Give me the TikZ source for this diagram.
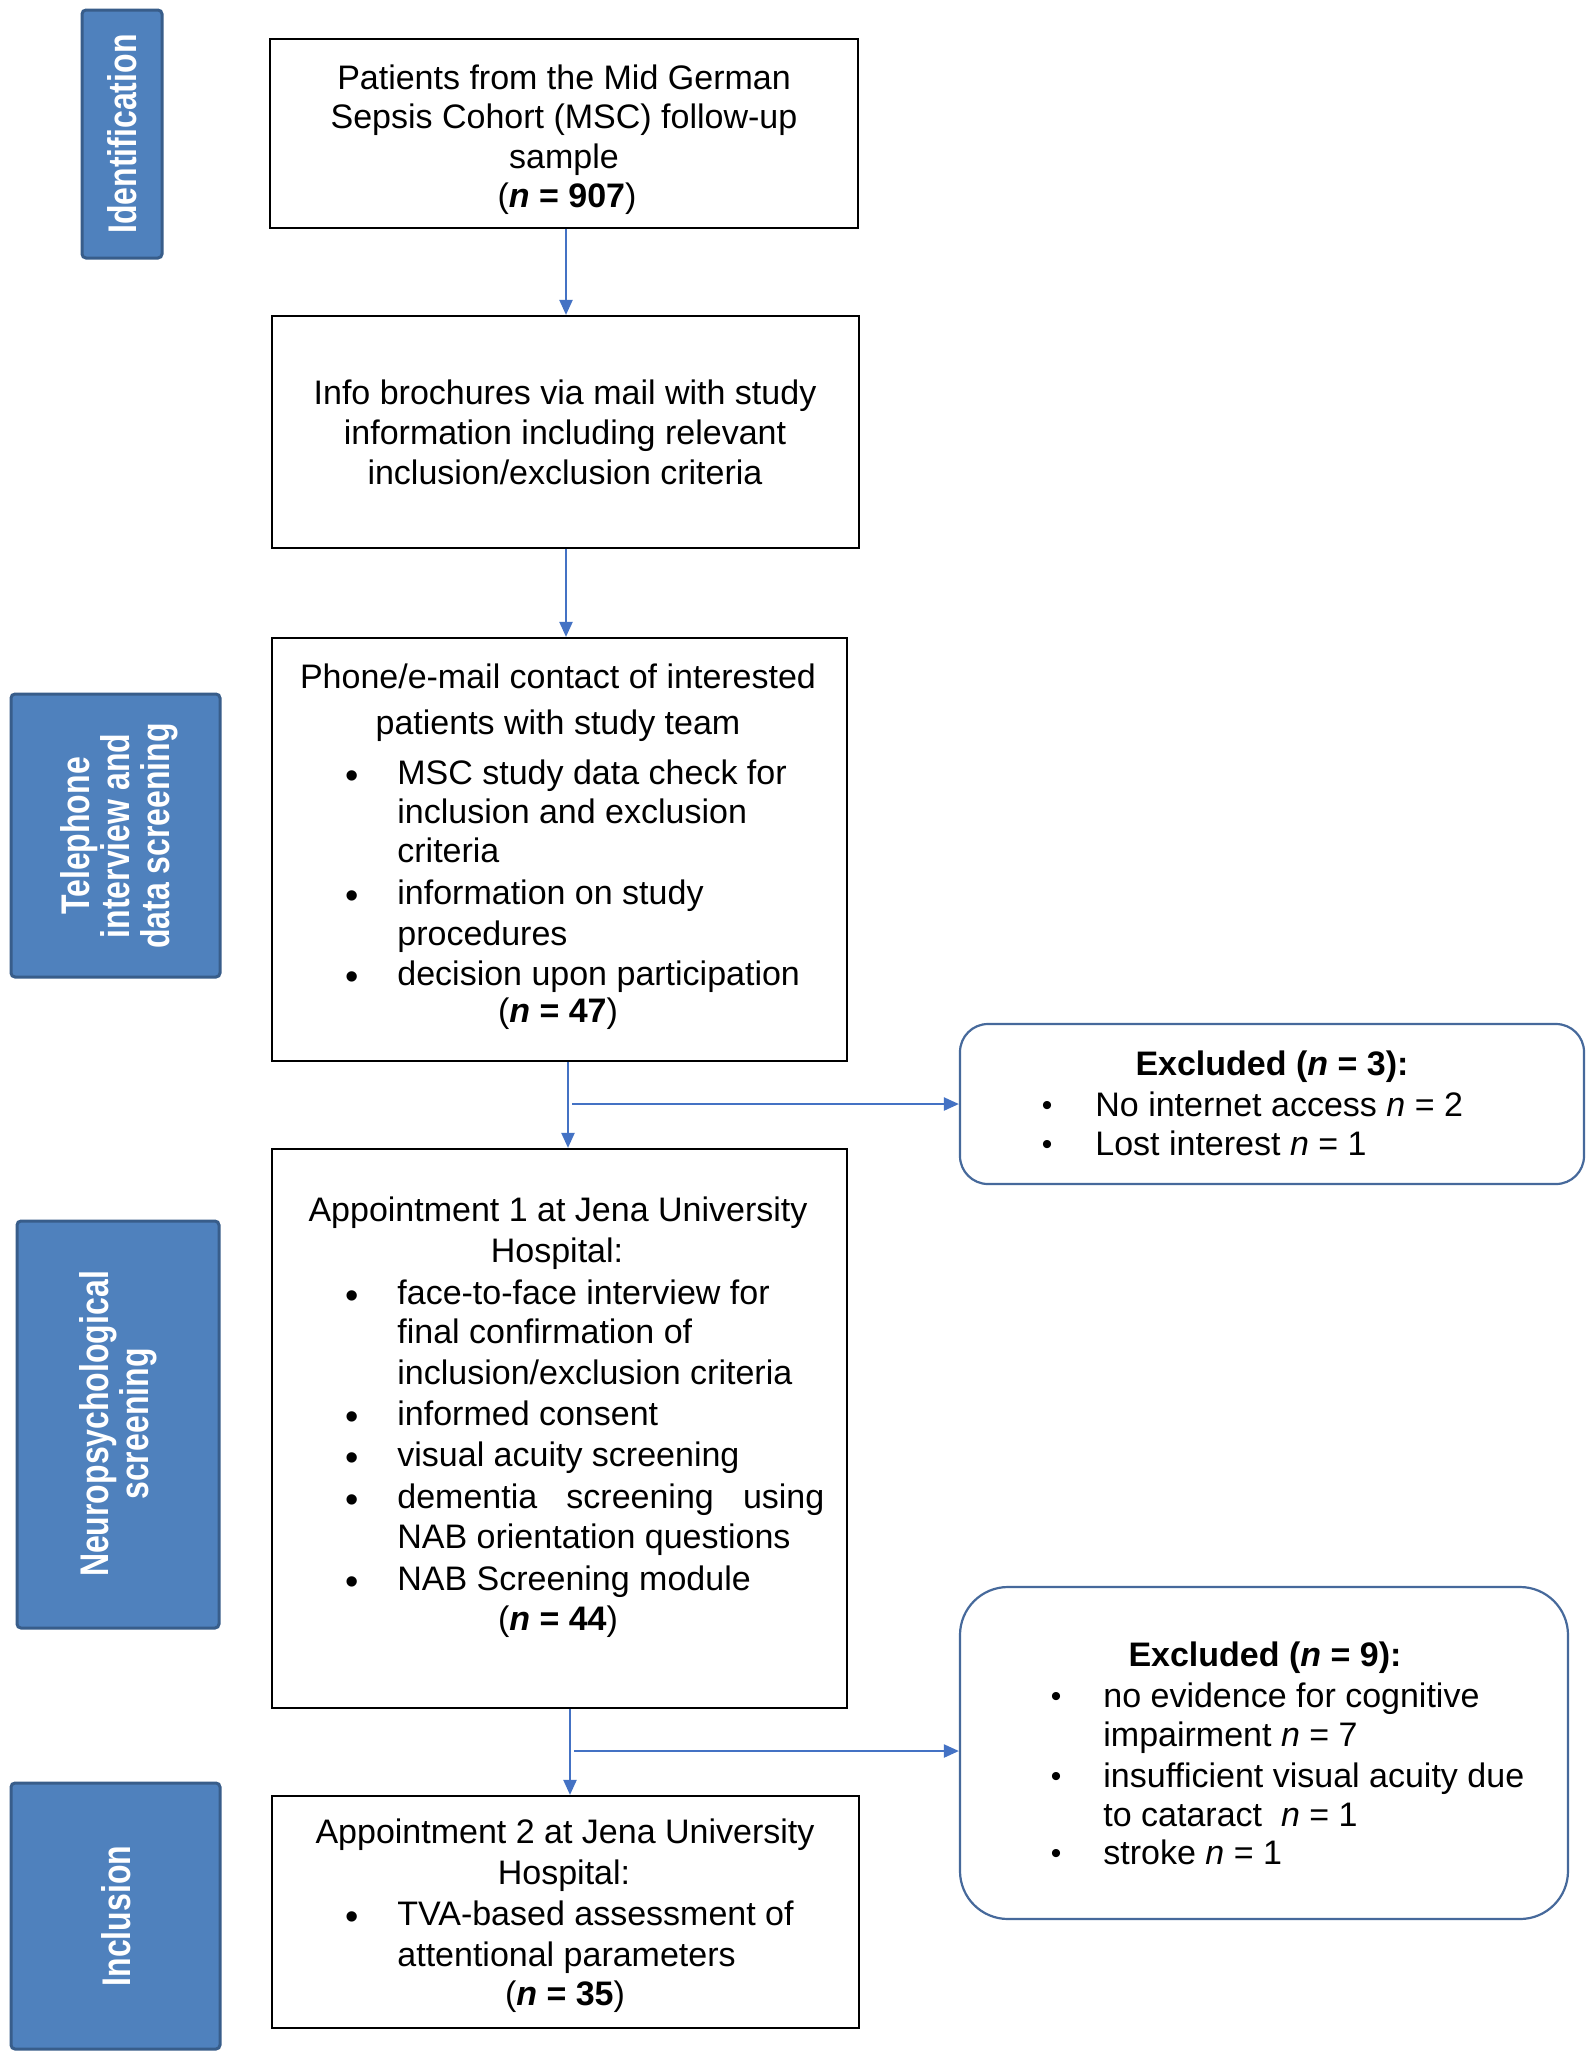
\documentclass[tikz,border=0pt]{standalone}
\usepackage{fontspec}
\setmainfont{Liberation Sans}
\newfontfamily\sidefont[FakeStretch=0.8]{Liberation Sans}
\usetikzlibrary{fit,arrows.meta}
\definecolor{sideblue}{RGB}{79,129,189}
\definecolor{sideborder}{RGB}{56,93,138}
\definecolor{arrowblue}{RGB}{68,114,196}
\definecolor{exclblue}{RGB}{70,105,155}
\tikzset{
  box/.style={draw=black, line width=1.1pt, fill=white, inner sep=0pt},
  sidebox/.style={draw=sideborder, fill=sideblue, line width=1.5pt, rounded corners=2pt, inner sep=0pt},
  exclbox/.style={draw=exclblue, line width=1.1pt, fill=white, inner sep=0pt},
  arr/.style={draw=arrowblue, line width=1.1pt, -{Triangle[width=6.5pt,length=7.5pt]}},
  body/.style={font=\fontsize{17}{20}\selectfont, inner sep=0pt, anchor=base},
  bodyl/.style={body, anchor=base west},
  bul/.style={font=\fontsize{19}{20}\selectfont, inner sep=0pt, anchor=base},
  sbul/.style={font=\fontsize{15}{16}\selectfont, inner sep=0pt, anchor=base},
  sidetxt/.style={font=\sidefont\bfseries\fontsize{20}{20}\selectfont, text=white, rotate=90, align=center, inner sep=0pt},
}
\newcommand{\nn}[1]{(\textbf{\textit{n} = #1})}
\begin{document}
\begin{tikzpicture}[x=0.5pt,y=-0.5pt]
\useasboundingbox (0,0) rectangle (1595,2058);
\fill[white] (0,0) rectangle (1595,2058);

% sidebars
\node[sidebox, fit={(82,10) (162,258)}] (s1) {};
\node[sidetxt] (s1t) at (122,134) {Identification};
\node[sidebox, fit={(11,694) (220,977)}] (s2) {};
\node[sidetxt] (s2t) at (119,836) {Telephone\\interview and\\data screening};
\node[sidebox, fit={(17,1221) (219,1628)}] (s3) {};
\node[sidetxt] (s3t) at (118,1424) {Neuropsychological\\screening};
\node[sidebox, fit={(11,1783) (220,2049)}] (s4) {};
\node[sidetxt] (s4t) at (116,1916) {Inclusion};

% main boxes
\node[box, fit={(270,39) (858,228)}] (b1) {};
\node[box, fit={(272,316) (859,548)}] (b2) {};
\node[box, fit={(272,638) (847,1061)}] (b3) {};
\node[box, fit={(272,1149) (847,1708)}] (b4) {};
\node[box, fit={(272,1796) (859,2028)}] (b5) {};
\node[exclbox, rounded corners=14pt, fit={(960,1024) (1584,1184)}] (e1) {};
\node[exclbox, rounded corners=24pt, fit={(960,1587) (1568,1919)}] (e2) {};

% connectors
\coordinate (x1) at (566,0);
\coordinate (x2) at (566,0);
\coordinate (x3) at (568,0);
\coordinate (x4) at (570,0);
\coordinate (j1) at (572,1104);
\coordinate (j2) at (574,1751);
\draw[arr] (b1.south -| x1) -- (b2.north -| x1);
\draw[arr] (b2.south -| x2) -- (b3.north -| x2);
\draw[arr] (b3.south -| x3) -- (b4.north -| x3);
\draw[arr] (j1) -- (j1 -| e1.west);
\draw[arr] (b4.south -| x4) -- (b5.north -| x4);
\draw[arr] (j2) -- (j2 -| e2.west);

% box 1
\node[body] (t1a) at (564,89) {Patients from the Mid German};
\node[body] (t1b) at (564,128) {Sepsis Cohort (MSC) follow-up};
\node[body] (t1c) at (564,168) {sample};
\node[body] (t1d) at (567,207) {\nn{907}};

% box 2
\node[body] (t2a) at (565,404) {Info brochures via mail with study};
\node[body] (t2b) at (565,444) {information including relevant};
\node[body] (t2c) at (565,484) {inclusion/exclusion criteria};

% box 3
\node[body] (t3a) at (558,688) {Phone/e-mail contact of interested};
\node[body] (t3b) at (558,734) {patients with study team};
\node[bul] (u3a) at (352,788) {\textbullet};
\node[bodyl] (t3c) at (397,784) {MSC study data check for};
\node[bodyl] (t3d) at (397,823) {inclusion and exclusion};
\node[bodyl] (t3e) at (397,862) {criteria};
\node[bul] (u3b) at (352,908) {\textbullet};
\node[bodyl] (t3f) at (397,904) {information on study};
\node[bodyl] (t3g) at (397,945) {procedures};
\node[bul] (u3c) at (352,989) {\textbullet};
\node[bodyl] (t3h) at (397,985) {decision upon participation};
\node[body] (t3i) at (558,1022) {\nn{47}};

% excluded 1
\node[body] (te1a) at (1272,1075) {\textbf{Excluded (\textit{n} = 3):}};
\node[sbul] (ue1a) at (1047,1115) {\textbullet};
\node[bodyl] (te1b) at (1095,1116) {No internet access \textit{n} = 2};
\node[sbul] (ue1b) at (1047,1154) {\textbullet};
\node[bodyl] (te1c) at (1095,1155) {Lost interest \textit{n} = 1};

% box 4
\node[body] (t4a) at (558,1221) {Appointment 1 at Jena University};
\node[body] (t4b) at (557,1262) {Hospital:};
\node[bul] (u4a) at (352,1308) {\textbullet};
\node[bodyl] (t4c) at (397,1304) {face-to-face interview for};
\node[bodyl] (t4d) at (397,1343) {final confirmation of};
\node[bodyl] (t4e) at (397,1384) {inclusion/exclusion criteria};
\node[bul] (u4b) at (352,1429) {\textbullet};
\node[bodyl] (t4f) at (397,1425) {informed consent};
\node[bul] (u4c) at (352,1470) {\textbullet};
\node[bodyl] (t4g) at (397,1466) {visual acuity screening};
\node[bul] (u4d) at (352,1512) {\textbullet};
\node[bodyl] (t4h) at (397,1508) {\makebox[213.5pt][s]{dementia screening using}};
\node[bodyl] (t4i) at (397,1548) {NAB orientation questions};
\node[bul] (u4e) at (352,1594) {\textbullet};
\node[bodyl] (t4j) at (397,1590) {NAB Screening module};
\node[body] (t4k) at (558,1630) {\nn{44}};

% excluded 2
\node[body] (te2a) at (1265,1666) {\textbf{Excluded (\textit{n} = 9):}};
\node[sbul] (ue2a) at (1056,1706) {\textbullet};
\node[bodyl] (te2b) at (1103,1707) {no evidence for cognitive};
\node[bodyl] (te2c) at (1103,1746) {impairment \textit{n} = 7};
\node[sbul] (ue2b) at (1056,1786) {\textbullet};
\node[bodyl] (te2d) at (1103,1787) {insufficient visual acuity due};
\node[bodyl] (te2e) at (1103,1826) {to cataract\ \ \textit{n} = 1};
\node[sbul] (ue2c) at (1056,1863) {\textbullet};
\node[bodyl] (te2f) at (1103,1864) {stroke \textit{n} = 1};

% box 5
\node[body] (t5a) at (565,1843) {Appointment 2 at Jena University};
\node[body] (t5b) at (564,1884) {Hospital:};
\node[bul] (u5a) at (352,1929) {\textbullet};
\node[bodyl] (t5c) at (397,1925) {TVA-based assessment of};
\node[bodyl] (t5d) at (397,1966) {attentional parameters};
\node[body] (t5e) at (565,2005) {\nn{35}};
\end{tikzpicture}
\end{document}
